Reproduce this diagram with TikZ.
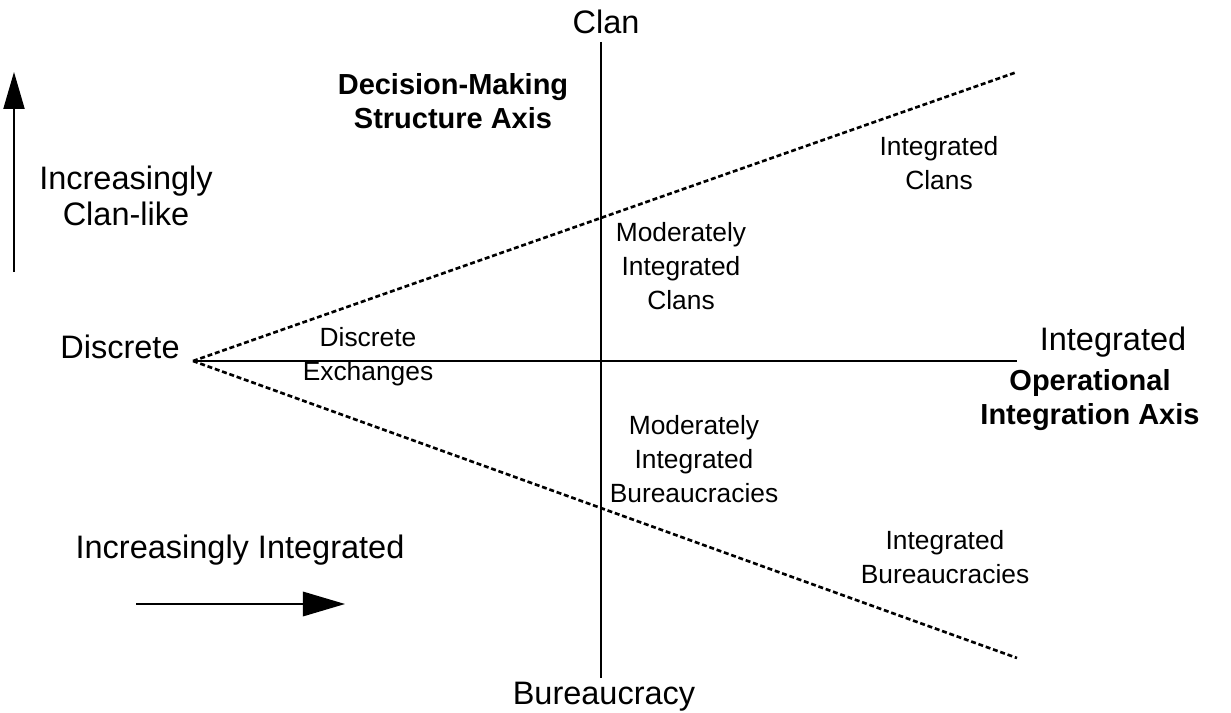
\documentclass[tikz,border=0pt]{standalone}
\usepackage{fontspec}
\setmainfont{Liberation Sans}
\usetikzlibrary{arrows.meta}
\tikzset{
	big/.style={font=\fontsize{18.5}{20.5}\selectfont,align=center,inner sep=0pt},
	small/.style={font=\fontsize{15}{19.3}\selectfont,align=center,inner sep=0pt},
	axisname/.style={font=\fontsize{16.5}{19.3}\selectfont\bfseries,align=center,inner sep=0pt},
	axis/.style={line width=0.9pt},
	bound/.style={line width=1.5pt,dash pattern=on 2.8pt off 1.6pt},
}
\begin{document}
\begin{tikzpicture}[x=0.02cm,y=-0.02cm]
	\useasboundingbox (0,0) rectangle (1231,713);
	% ends of the two axes and the two boundary lines
	\coordinate (apex) at (193,361);
	\coordinate (intend) at (1017,361);
	\coordinate (clanend) at (601,42);
	\coordinate (burend) at (601,678);
	\coordinate (upend) at (1017,72);
	\coordinate (lowend) at (1017,658);
	\draw[axis] (clanend) -- (burend);
	\draw[axis] (apex) -- (intend);
	\draw[bound] (apex) -- (upend) (apex) -- (lowend);
	% axis labels
	\node[big] (clan) at (606,22) {Clan};
	\node[big] (bur) at (604,697) {Bureaucracy};
	\node[big] (disc) at (120,347) {Discrete};
	\node[big] (integ) at (1113,342) {Integrated};
	\node[axisname] (dms) at (453,101) {Decision-Making\\Structure Axis};
	\node[axisname] (oia) at (1090,400) {Operational\\Integration Axis};
	% regions
	\node[small] (ic) at (939,163) {Integrated\\Clans};
	\node[small] (mic) at (681,266) {Moderately\\Integrated\\Clans};
	\node[small] (de) at (368,357) {Discrete\\Exchanges};
	\node[small] (mib) at (694,459) {Moderately\\Integrated\\Bureaucracies};
	\node[small] (ib) at (945,557) {Integrated\\Bureaucracies};
	% direction hints
	\node[big] (clanlike) at (126,196) {Increasingly\\Clan-like};
	\node[big] (moreint) at (240,550) {Increasingly Integrated};
	\coordinate (uplow) at (14,272);
	\coordinate (uptop) at (14,72);
	\coordinate (rleft) at (136,604);
	\coordinate (rright) at (345,604);
	\draw[axis,-{Triangle[length=21pt,width=12pt]}] (uplow) -- (uptop);
	\draw[axis,-{Triangle[length=24pt,width=14pt]}] (rleft) -- (rright);
\end{tikzpicture}
\end{document}
